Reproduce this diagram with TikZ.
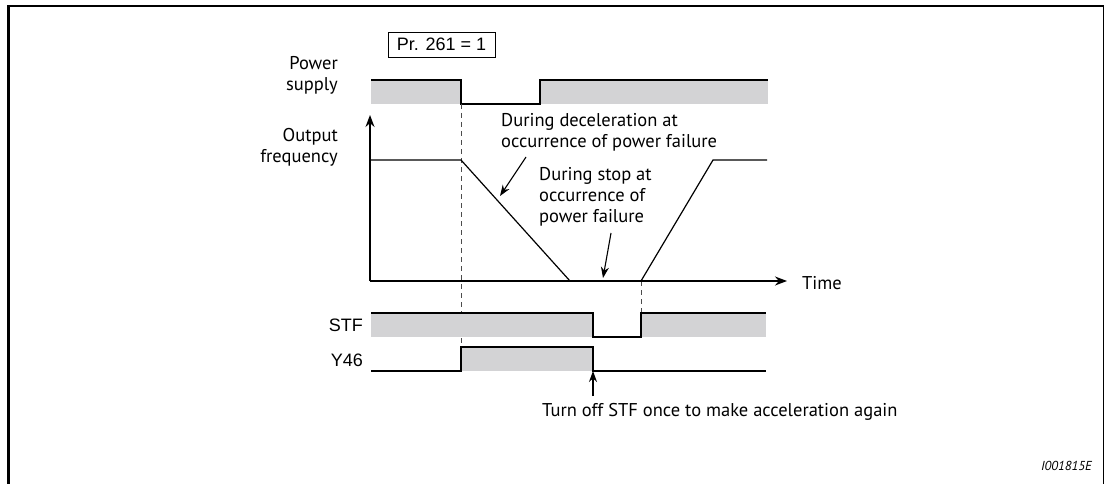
\documentclass[tikz,border=0pt]{standalone}
\usepackage{fontspec}
\setmainfont{PT Sans}
\newfontfamily\arialfont{Liberation Sans}
\usepackage{tikz}
\usetikzlibrary{arrows, arrows.meta, positioning, calc}
\definecolor{siggray}{RGB}{211,211,213}
\tikzstyle{label} = [font=\fontsize{18.5}{21}\selectfont, inner sep=0pt, align=right, anchor=east]
\tikzstyle{note} = [font=\fontsize{18.5}{21}\selectfont, inner sep=0pt, align=left, anchor=west]
\tikzstyle{sig} = [line width=1.2pt]
\tikzstyle{fillsig} = [fill=siggray, draw=none]
\tikzstyle{arrow} = [line width=1.1pt,-{Stealth[length=11pt,width=8pt]}]
\tikzstyle{axis} = [line width=1.5pt,-{Stealth[length=12pt,width=9pt]}]
\tikzstyle{guide} = [line width=0.9pt, dash pattern=on 5pt off 4pt, black!70]

\begin{document}
\begin{tikzpicture}[x=1pt, y=-1pt]
\useasboundingbox (0,0) rectangle (1105,484);

% Frame
\draw[line width=2.2pt] (8.5,484) -- (8.5,6) -- (1103.5,6);
\draw[line width=1.4pt] (1103.5,6) -- (1103.5,484);

% Parameter box
\node (param) [draw, line width=0.9pt, font=\fontsize{18}{20}\selectfont\arialfont, inner sep=0pt, minimum width=107pt, minimum height=25pt] at (441.5,44.5) {Pr. 261 = 1};

% Signal labels
\node (power) [label] at (338,75) {Power\\supply};
\node (freq) [label] at (338,147) {Output\\frequency};
\node (stf) [label, font=\fontsize{18}{20}\selectfont\arialfont] at (363,325) {STF};
\node (y46) [label, font=\fontsize{18}{20}\selectfont\arialfont] at (363,360) {Y46};

% Power supply
\fill[fillsig] (371,80) rectangle (461,104);
\fill[fillsig] (540,80) rectangle (768,104);
\draw[sig] (371,80) -- (461,80) -- (461,104) -- (540,104) -- (540,80) -- (768,80);

% Guides
\draw[guide] (461,104) -- (461,347);
\draw[guide] (641,281) -- (641,313);

% Output frequency
\coordinate (origin) at (370,281);
\draw[axis] (origin) -- (370,115);
\draw[axis] (origin) -- (787,281);
\node (time) [note] at (802,283) {Time};
\draw[sig] (370,160) -- (461,160) -- (570,281) -- (641,281) -- (713,160) -- (767,160);

% Notes
\node (decel) [note] at (501,132) {During deceleration at\\occurrence of power failure};
\node (stop) [note] at (539,197) {During stop at\\occurrence of\\power failure};
\coordinate (decelend) at (500,196);
\coordinate (stopend) at (603,278);
\draw[arrow] (526,157) -- (decelend);
\draw[arrow] (611,233) -- (stopend);

% STF
\fill[fillsig] (371,313) rectangle (593,337);
\fill[fillsig] (641,313) rectangle (766,337);
\draw[sig] (371,313) -- (593,313) -- (593,337) -- (641,337) -- (641,313) -- (766,313);

% Y46
\fill[fillsig] (461,347) rectangle (593,371);
\draw[sig] (371,371) -- (461,371) -- (461,347) -- (593,347) -- (593,371) -- (766,371);

% Restart note
\node (restart) [note] at (542,412) {Turn off STF once to make acceleration again};
\coordinate (stfoff) at (593,371);
\draw[arrow] (593,396) -- (stfoff);

% Figure id
\node (figid) [font=\fontsize{13}{14}\selectfont\itshape, inner sep=0pt, anchor=east] at (1092,466) {I001815E};

\end{tikzpicture}
\end{document}
